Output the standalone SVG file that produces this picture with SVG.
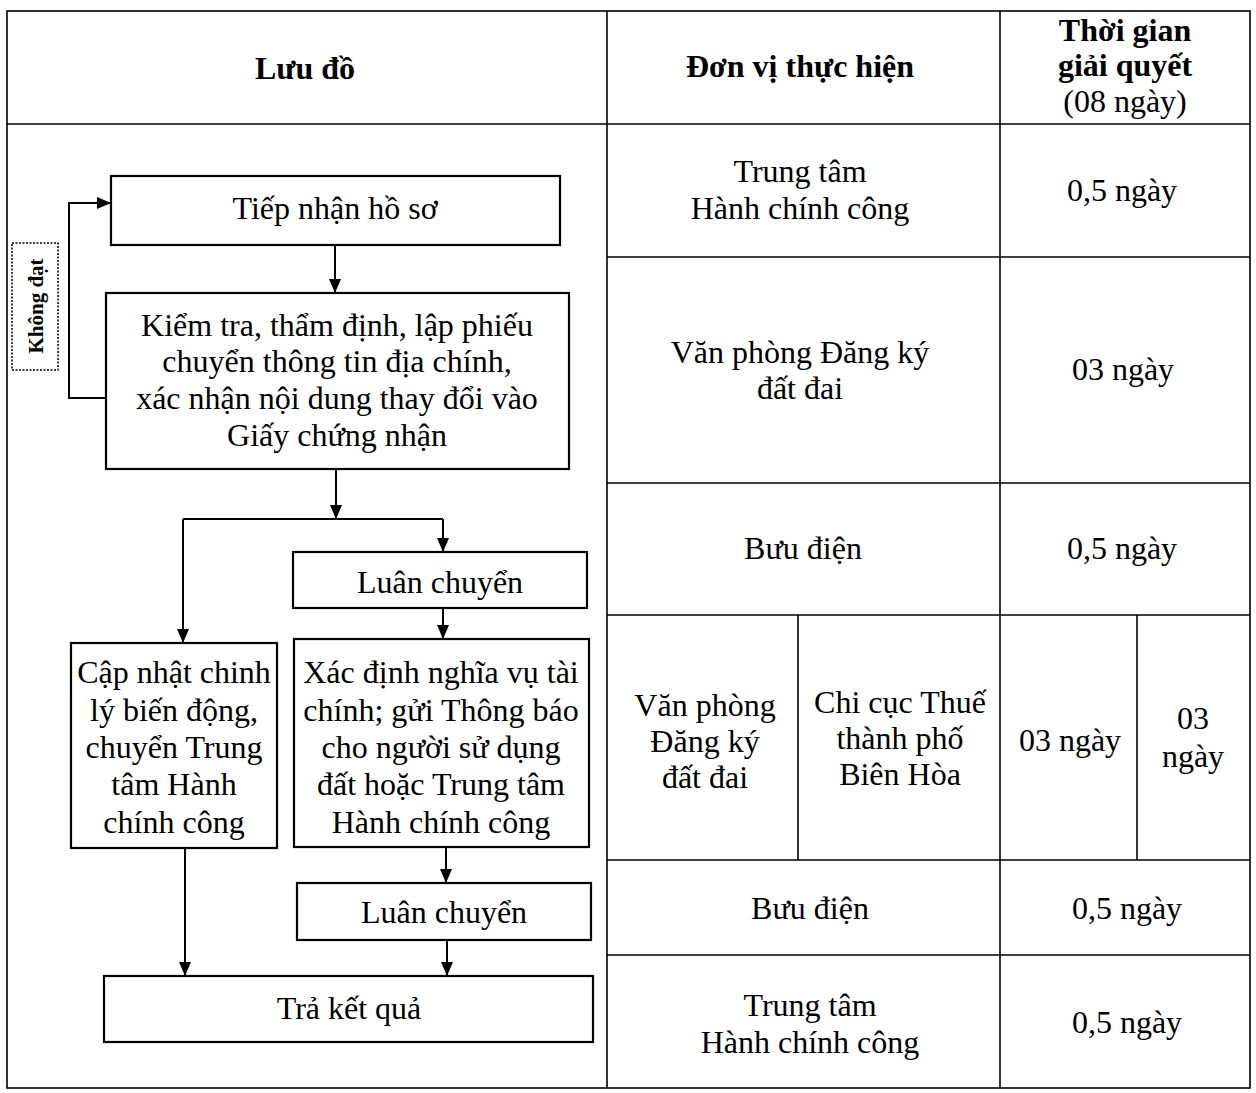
<svg xmlns="http://www.w3.org/2000/svg" width="1256" height="1093" viewBox="0 0 1256 1093">
<defs>
<style>
.t{font-family:"Liberation Serif","Times New Roman",serif;font-size:32px;fill:#000;text-anchor:middle}
.b{font-weight:bold}
.box{fill:#fff;stroke:#000;stroke-width:2.2}
.grid{fill:none;stroke:#000;stroke-width:1.6}
.c{fill:none;stroke:#000;stroke-width:2}
</style>
<marker id="ah" markerUnits="userSpaceOnUse" markerWidth="14" markerHeight="12" refX="14" refY="6" orient="auto">
<path d="M0,0 L14,6 L0,12 z" fill="#000"/>
</marker>
</defs>
<rect width="1256" height="1093" fill="#fff"/>
<g id="table">
<rect class="grid" x="7" y="11" width="1243" height="1077"/>
<line class="grid" x1="607" y1="11" x2="607" y2="1088"/>
<line class="grid" x1="1000" y1="11" x2="1000" y2="1088"/>
<line class="grid" x1="7" y1="124" x2="1250" y2="124"/>
<line class="grid" x1="607" y1="257" x2="1250" y2="257"/>
<line class="grid" x1="607" y1="483" x2="1250" y2="483"/>
<line class="grid" x1="607" y1="615" x2="1250" y2="615"/>
<line class="grid" x1="607" y1="860" x2="1250" y2="860"/>
<line class="grid" x1="607" y1="955" x2="1250" y2="955"/>
<line class="grid" x1="798" y1="615" x2="798" y2="860"/>
<line class="grid" x1="1137" y1="615" x2="1137" y2="860"/>
</g>
<g id="headers">
<text class="t b" x="305" y="79">Lưu đồ</text>
<text class="t b" x="800" y="77">Đơn vị thực hiện</text>
<text class="t b" x="1125" y="41">Thời gian</text>
<text class="t b" x="1125" y="76">giải quyết</text>
<text class="t" x="1125" y="112">(08 ngày)</text>
</g>
<g id="units">
<text class="t" x="800" y="182">Trung tâm</text>
<text class="t" x="800" y="219">Hành chính công</text>
<text class="t" x="1122" y="201">0,5 ngày</text>
<text class="t" x="800" y="363">Văn phòng Đăng ký</text>
<text class="t" x="800" y="399">đất đai</text>
<text class="t" x="1123" y="380">03 ngày</text>
<text class="t" x="803" y="559">Bưu điện</text>
<text class="t" x="1122" y="559">0,5 ngày</text>
<text class="t" x="705" y="716">Văn phòng</text>
<text class="t" x="705" y="752">Đăng ký</text>
<text class="t" x="705" y="788">đất đai</text>
<text class="t" x="900" y="713">Chi cục Thuế</text>
<text class="t" x="900" y="749">thành phố</text>
<text class="t" x="900" y="785">Biên Hòa</text>
<text class="t" x="1070" y="751">03 ngày</text>
<text class="t" x="1193" y="729">03</text>
<text class="t" x="1193" y="767">ngày</text>
<text class="t" x="810" y="919">Bưu điện</text>
<text class="t" x="1127" y="919">0,5 ngày</text>
<text class="t" x="810" y="1016">Trung tâm</text>
<text class="t" x="810" y="1053">Hành chính công</text>
<text class="t" x="1127" y="1033">0,5 ngày</text>
</g>
<g id="connectors">
<path class="c" d="M335,245 V293" marker-end="url(#ah)"/>
<path class="c" d="M106,398 H69 V203 H111" marker-end="url(#ah)"/>
<path class="c" d="M336,469 V519" marker-end="url(#ah)"/>
<path class="c" d="M183,519 H443"/>
<path class="c" d="M183,519 V643" marker-end="url(#ah)"/>
<path class="c" d="M443,519 V552" marker-end="url(#ah)"/>
<path class="c" d="M443,608 V639" marker-end="url(#ah)"/>
<path class="c" d="M446,847 V883" marker-end="url(#ah)"/>
<path class="c" d="M447,940 V976" marker-end="url(#ah)"/>
<path class="c" d="M185,848 V976" marker-end="url(#ah)"/>
</g>
<g id="khong-dat">
<rect x="12" y="243" width="46" height="127" fill="#fff" stroke="#000" stroke-width="1.5" stroke-dasharray="2,1.5"/>
<text class="t b" style="font-size:21px" transform="translate(43,306) rotate(-90)">Không đạt</text>
</g>
<g id="n-tiep-nhan">
<rect class="box" x="111" y="176" width="449" height="69"/>
<text class="t" x="335" y="219">Tiếp nhận hồ sơ</text>
</g>
<g id="n-kiem-tra">
<rect class="box" x="106" y="293" width="463" height="176"/>
<text class="t" x="337" y="336">Kiểm tra, thẩm định, lập phiếu</text>
<text class="t" x="337" y="372">chuyển thông tin địa chính,</text>
<text class="t" x="337" y="409">xác nhận nội dung thay đổi vào</text>
<text class="t" x="337" y="446">Giấy chứng nhận</text>
</g>
<g id="n-luan-chuyen-1">
<rect class="box" x="293" y="552" width="294" height="56"/>
<text class="t" x="440" y="593">Luân chuyển</text>
</g>
<g id="n-cap-nhat">
<rect class="box" x="71" y="643" width="206" height="205"/>
<text class="t" x="174" y="683">Cập nhật chinh</text>
<text class="t" x="174" y="721">lý biến động,</text>
<text class="t" x="174" y="758">chuyển Trung</text>
<text class="t" x="174" y="795">tâm Hành</text>
<text class="t" x="174" y="833">chính công</text>
</g>
<g id="n-xac-dinh">
<rect class="box" x="294" y="639" width="295" height="208"/>
<text class="t" x="441" y="683">Xác định nghĩa vụ tài</text>
<text class="t" x="441" y="721">chính; gửi Thông báo</text>
<text class="t" x="441" y="758">cho người sử dụng</text>
<text class="t" x="441" y="795">đất hoặc Trung tâm</text>
<text class="t" x="441" y="833">Hành chính công</text>
</g>
<g id="n-luan-chuyen-2">
<rect class="box" x="297" y="883" width="294" height="57"/>
<text class="t" x="444" y="923">Luân chuyển</text>
</g>
<g id="n-tra-ket-qua">
<rect class="box" x="104" y="976" width="489" height="66"/>
<text class="t" x="349" y="1019">Trả kết quả</text>
</g>
</svg>
